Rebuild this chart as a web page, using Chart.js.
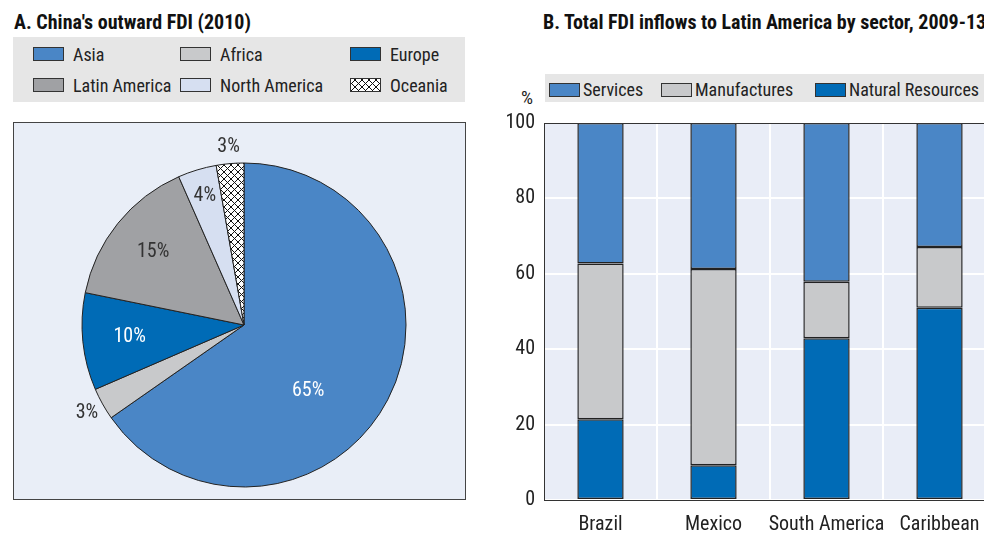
<!DOCTYPE html>
<html>
<head>
<meta charset="utf-8">
<script src="https://cdn.jsdelivr.net/npm/chart.js@4.4.0/dist/chart.umd.min.js"></script>
<style>
  html, body { margin:0; padding:0; }
  body { width:984px; height:533px; overflow:hidden; position:relative; background:#fff;
         font-family:"Roboto Condensed", Roboto, sans-serif; color:#222; }
  .abs { position:absolute; }
  .title { font-weight:bold; font-size:20px; line-height:20px; white-space:nowrap; color:#111; }
  .lbox { background:#e6e6e6; }
  .sw { position:absolute; width:29px; height:12px; border:1px solid #333; }
  .lt { position:absolute; font-size:18px; line-height:18px; white-space:nowrap; color:#222; }
  #pieBox { left:13px; top:122px; width:453px; height:378px; background:#e9eef7; border:1px solid #444; box-sizing:border-box; }
  .hatch { background:
      repeating-linear-gradient(45deg, #111 0 1px, transparent 1px 5px),
      repeating-linear-gradient(-45deg, #111 0 1px, transparent 1px 5px), #fff; }
</style>
</head>
<body>
<div class="abs title" style="left:14px; top:12px;">A. China's outward FDI (2010)</div>
<div class="abs lbox" id="legA" style="left:13px; top:37px; width:452px; height:65px;"></div>
<div class="abs" id="pieBox"><canvas id="pie" width="451" height="376"></canvas></div>

<div class="abs title" style="left:543px; top:12px;">B. Total FDI inflows to Latin America by sector, 2009-13</div>
<div class="abs lbox" id="legB" style="left:545px; top:74px; width:460px; height:28px;"></div>
<div class="abs lt" style="left:521px; top:89px; font-size:19px;">%</div>
<div class="abs" style="left:500px; top:110px; width:500px; height:423px;"><canvas id="bar" width="500" height="423"></canvas></div>

<script>
// ---------- Data ----------
const regions = ["Asia", "Africa", "Europe", "Latin America", "North America", "Oceania"];
const regionShares = [65.3, 3.2, 9.7, 15.2, 3.85, 2.75];
const regionColors = ["#4a86c6", "#c8c9cb", "#006bb6", "#a0a1a4", "#d6dff1", "hatch"];

const countries = ["Brazil", "Mexico", "South America", "Caribbean"];
const naturalResources = [21.4, 9.2, 42.9, 51.0];
const manufactures = [41.3, 52.1, 15.0, 16.1];
const services = [37.3, 38.7, 42.1, 32.9];
const yTicks = [0, 20, 40, 60, 80, 100];

const FONT = '"Roboto Condensed", Roboto, sans-serif';

// ---------- Legend A ----------
const legA = document.getElementById('legA');
const legAOrder = ["Asia", "Africa", "Europe", "Latin America", "North America", "Oceania"];
const colX = [20, 167, 337], rowY = [10, 41];
legAOrder.forEach((name, i) => {
  const c = i % 3, r = Math.floor(i / 3);
  const idx = regions.indexOf(name);
  const sw = document.createElement('div');
  sw.className = 'sw' + (regionColors[idx] === 'hatch' ? ' hatch' : '');
  if (regionColors[idx] !== 'hatch') sw.style.background = regionColors[idx];
  sw.style.left = colX[c] + 'px'; sw.style.top = rowY[r] + 'px';
  legA.appendChild(sw);
  const t = document.createElement('div');
  t.className = 'lt'; t.textContent = name;
  t.style.left = (colX[c] + 40) + 'px'; t.style.top = (rowY[r] - 1) + 'px';
  legA.appendChild(t);
});

// ---------- Legend B ----------
const legB = document.getElementById('legB');
const sectors = [
  { name: "Services", color: "#4a86c6" },
  { name: "Manufactures", color: "#c8c9cb" },
  { name: "Natural Resources", color: "#006bb6" }
];
const bx = [4, 116, 270];
sectors.forEach((s, i) => {
  const sw = document.createElement('div');
  sw.className = 'sw'; sw.style.background = s.color;
  sw.style.left = bx[i] + 'px'; sw.style.top = '9px';
  legB.appendChild(sw);
  const t = document.createElement('div');
  t.className = 'lt'; t.textContent = s.name;
  t.style.left = (bx[i] + 34) + 'px'; t.style.top = '7px';
  legB.appendChild(t);
});

// ---------- Pie ----------
function hatchPattern() {
  const s = 7;
  const c = document.createElement('canvas');
  c.width = s; c.height = s;
  const g = c.getContext('2d');
  g.fillStyle = '#fff'; g.fillRect(0, 0, s, s);
  g.strokeStyle = '#111'; g.lineWidth = 1;
  g.beginPath();
  g.moveTo(-1, -1); g.lineTo(s + 1, s + 1);
  g.moveTo(-1, s + 1); g.lineTo(s + 1, -1);
  g.stroke();
  return g.createPattern(c, 'repeat');
}
const pieCtx = document.getElementById('pie').getContext('2d');
const pieFill = regionColors.map(c => c === 'hatch' ? hatchPattern() : c);

const pieLabels = {
  id: 'pieLabels',
  afterDatasetsDraw(chart, args, opts) {
    const ctx = chart.ctx;
    const meta = chart.getDatasetMeta(0);
    ctx.save();
    ctx.font = '20px ' + FONT;
    ctx.textAlign = 'center';
    ctx.textBaseline = 'middle';
    meta.data.forEach((arc, i) => {
      const p = arc.getProps(['x', 'y', 'startAngle', 'endAngle', 'outerRadius']);
      let a = (p.startAngle + p.endAngle) / 2;
      if (opts.angles[i] !== null) a = (opts.angles[i] - 90) * Math.PI / 180;
      const r = p.outerRadius * opts.radii[i];
      ctx.fillStyle = opts.colors[i];
      ctx.fillText(Math.round(regionShares[i]) + '%', p.x + Math.cos(a) * r, p.y + Math.sin(a) * r);
    });
    ctx.restore();
  }
};

new Chart(pieCtx, {
  type: 'pie',
  data: {
    labels: regions,
    datasets: [{
      data: regionShares,
      backgroundColor: pieFill,
      borderColor: '#222',
      borderWidth: 1,
      hoverOffset: 0
    }]
  },
  options: {
    responsive: false,
    animation: false,
    events: [],
    radius: 162,
    layout: { padding: { left: 20, right: 11, top: 30, bottom: 2 } },
    plugins: {
      legend: { display: false },
      tooltip: { enabled: false },
      pieLabels: {
        radii: [0.57, 1.11, 0.71, 0.72, 0.835, 1.1],
        angles: [136, null, null, null, null, null],
        colors: ['#fff', '#333', '#fff', '#333', '#333', '#333']
      }
    }
  },
  plugins: [pieLabels]
});

// ---------- Bar ----------
const plotFrame = {
  id: 'plotFrame',
  beforeDraw(chart) {
    const { ctx, chartArea: a } = chart;
    ctx.save();
    ctx.fillStyle = '#e9edf7';
    ctx.fillRect(a.left, a.top, a.right - a.left, a.bottom - a.top);
    ctx.restore();
  },
  afterDraw(chart) {
    const { ctx, chartArea: a } = chart;
    ctx.save();
    ctx.strokeStyle = '#333';
    ctx.lineWidth = 1;
    ctx.strokeRect(a.left + 0.5, a.top + 0.5, a.right - a.left - 1, a.bottom - a.top);
    ctx.restore();
  }
};

const font20 = { family: FONT, size: 20 };
const barCtx = document.getElementById('bar').getContext('2d');
new Chart(barCtx, {
  type: 'bar',
  data: {
    labels: countries,
    datasets: [
      { label: 'Natural Resources', data: naturalResources, backgroundColor: '#006bb6' },
      { label: 'Manufactures', data: manufactures, backgroundColor: '#c8c9cb' },
      { label: 'Services', data: services, backgroundColor: '#4a86c6' }
    ].map(d => Object.assign(d, { borderColor: '#222', borderWidth: 1.5, borderSkipped: false,
                                   categoryPercentage: 0.41, barPercentage: 1 }))
  },
  options: {
    responsive: false,
    animation: false,
    events: [],
    layout: { padding: { top: 13, right: 4, left: 0, bottom: 0 } },
    plugins: { legend: { display: false }, tooltip: { enabled: false } },
    scales: {
      x: {
        stacked: true,
        grid: { color: '#fff', lineWidth: 2, offset: true, drawTicks: false },
        border: { display: false },
        ticks: { color: '#222', font: font20, padding: 13, maxRotation: 0, autoSkip: false },
        afterFit: s => { s.height = 33; s.paddingLeft = 0; s.paddingRight = 0; }
      },
      y: {
        stacked: true,
        min: 0, max: 100,
        afterBuildTicks: s => { s.ticks = yTicks.map(v => ({ value: v })); },
        grid: { color: '#fff', lineWidth: 2, drawTicks: false },
        border: { display: false },
        ticks: { color: '#222', font: font20, padding: 9 },
        afterFit: s => { s.width = 44; s.paddingTop = 0; s.paddingBottom = 0; }
      }
    }
  },
  plugins: [plotFrame]
});
</script>
</body>
</html>
